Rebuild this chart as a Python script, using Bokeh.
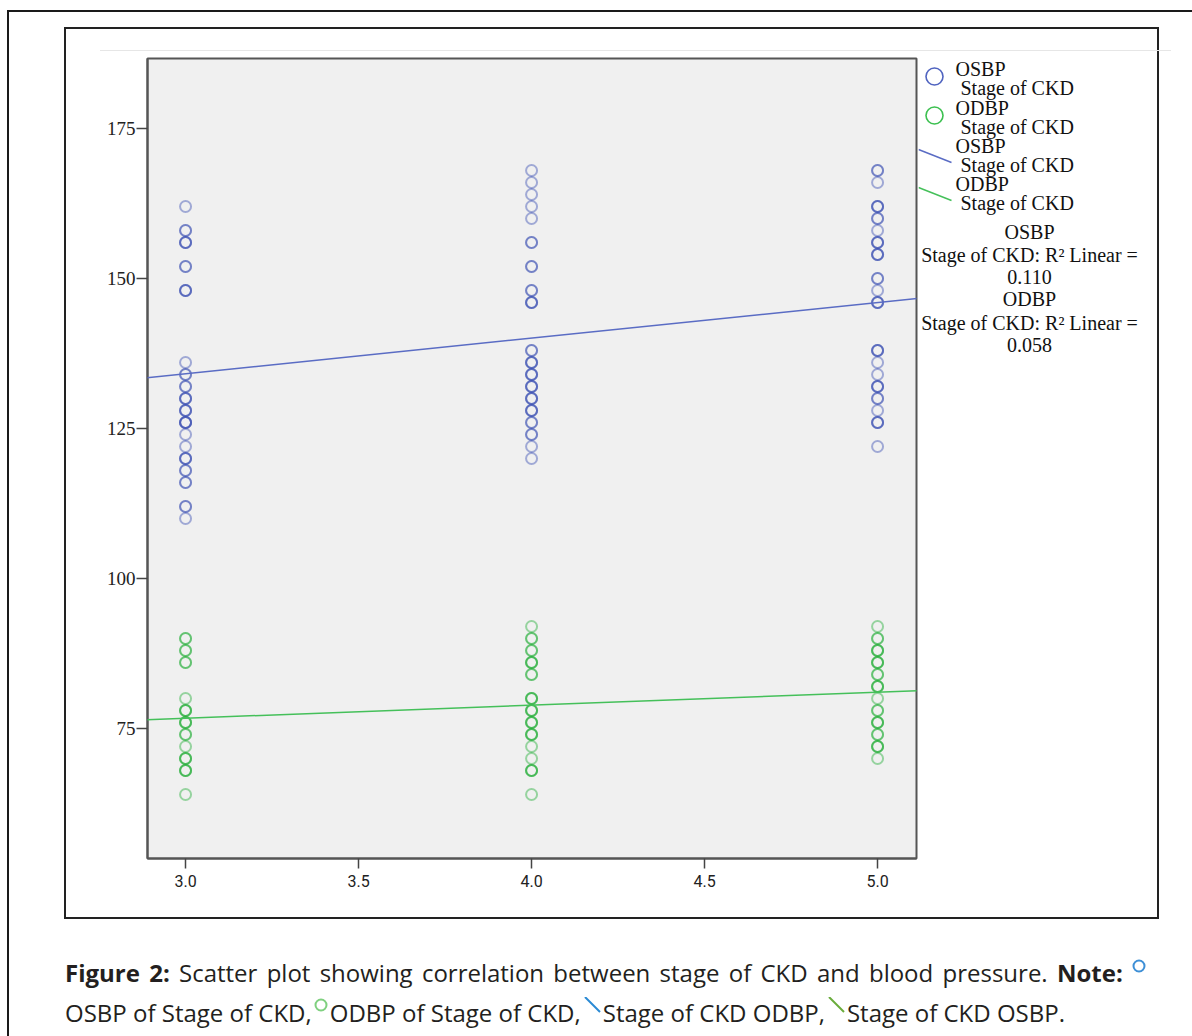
from bokeh.plotting import figure
from bokeh.layouts import column, row
from bokeh.models import Range1d, FixedTicker, NumeralTickFormatter, Slope, Div
from bokeh.core.properties import value
from bokeh.embed import file_html
from bokeh.resources import INLINE

# ---------------- data ----------------
x_ticks = [3.0, 3.5, 4.0, 4.5, 5.0]
y_ticks = [75, 100, 125, 150, 175]

# repeated values = overlapping subjects (darker circles)
osbp_stage3 = [162, 158, 158, 156, 156, 156, 152, 152, 148, 148, 148,
               136, 134, 134, 132, 132, 130, 130, 130, 128, 128, 128,
               126, 126, 126, 126, 124, 122, 120, 120, 120, 118, 118,
               116, 116, 112, 112, 110]
osbp_stage4 = [168, 166, 164, 162, 160, 156, 156, 152, 152, 148, 148,
               146, 146, 146, 138, 138, 136, 136, 136, 134, 134, 134,
               132, 132, 132, 130, 130, 130, 128, 128, 128, 126, 126,
               124, 124, 122, 120]
osbp_stage5 = [168, 168, 166, 162, 162, 162, 160, 160, 158, 156, 156, 156,
               154, 154, 154, 150, 150, 148, 146, 146, 146, 138, 138, 138,
               136, 134, 132, 132, 132, 130, 130, 128, 126, 126, 126, 122]

odbp_stage3 = [90, 90, 88, 88, 86, 86, 80, 78, 78, 78, 76, 76, 76, 74, 74,
               72, 70, 70, 70, 68, 68, 68, 64]
odbp_stage4 = [92, 90, 90, 88, 88, 86, 86, 86, 84, 84, 80, 80, 80, 78, 78,
               78, 76, 76, 76, 74, 74, 74, 72, 70, 68, 68, 68, 64]
odbp_stage5 = [92, 90, 90, 88, 88, 88, 86, 86, 86, 84, 84, 82, 82, 82, 80,
               78, 78, 76, 76, 76, 74, 74, 72, 72, 72, 70]

# fitted regression lines
osbp_fit_slope, osbp_fit_intercept = 5.94, 116.3
odbp_fit_slope, odbp_fit_intercept = 2.17, 70.2

r2_osbp = "0.110"
r2_odbp = "0.058"

legend_names = ["OSBP", "ODBP", "OSBP", "ODBP"]
legend_sub = "Stage of CKD"

caption_title = "Figure 2:"
caption_body = "Scatter plot showing correlation between stage of CKD and blood pressure."
caption_note = "Note:"
caption_items = ["OSBP of Stage of CKD,", "ODBP of Stage of CKD,",
                 "Stage of CKD ODBP,", "Stage of CKD OSBP."]

# ---------------- styling ----------------
BLUE = "#3d52b4"
GREEN = "#27b03c"
BLUE_FIT = "#5a6cc4"
GREEN_FIT = "#45c05a"
BORDER = "#1a1a1a"
LF = "Liberation Serif"
CC = "#231f20"

PAGE_W = 1192
TOP_H = 56
MID_H = 844
BOT_H = 136
LEFT_W = 100
MAIN_W = 818
LEG_W = 232
RIGHT_W = PAGE_W - LEFT_W - MAIN_W - LEG_W


def bar(left, top, width, height, color=BORDER):
    return (f'<div style="position:absolute;left:{left}px;top:{top}px;'
            f'width:{width}px;height:{height}px;background:{color}"></div>')


def box_div(w, h, inner):
    html = (f'<div style="position:relative;width:{w}px;height:{h}px;'
            f'overflow:hidden;margin:0;padding:0">{inner}</div>')
    return Div(text=html, width=w, height=h, margin=0)


# ---------------- top band (frame lines) ----------------
top = box_div(PAGE_W, TOP_H,
              bar(7, 10, PAGE_W - 7, 2) + bar(7, 10, 2, TOP_H - 10) +
              bar(64, 27, 1095, 2, "#222") + bar(64, 27, 2, TOP_H - 27, "#222") +
              bar(1157, 27, 2, TOP_H - 27, "#222") +
              bar(100, 50, 1071, 1, "#e6e6e6"))

left = box_div(LEFT_W, MID_H, bar(7, 0, 2, MID_H) + bar(64, 0, 2, MID_H, "#222"))
right = box_div(RIGHT_W, MID_H, bar(1157 - (PAGE_W - RIGHT_W), 0, 2, MID_H, "#222"))

# ---------------- main scatter plot ----------------
p = figure(width=MAIN_W, height=MID_H,
           x_range=Range1d(2.89, 5.1125), y_range=Range1d(53.33, 186.67),
           output_backend="svg", toolbar_location=None, title=None,
           min_border_left=47, min_border_right=2,
           min_border_top=2, min_border_bottom=42)
p.background_fill_color = "#f0f0f0"
p.border_fill_color = "white"
p.outline_line_color = "#555555"
p.outline_line_width = 2
p.xgrid.visible = False
p.ygrid.visible = False

for ax in (p.xaxis[0], p.yaxis[0]):
    ax.axis_line_color = "#555555"
    ax.axis_line_width = 2
    ax.major_tick_line_color = "#444444"
    ax.major_tick_line_width = 1.5
    ax.major_tick_in = 0
    ax.minor_tick_in = 0
    ax.minor_tick_out = 0
    ax.major_label_text_color = "#222222"

p.xaxis.ticker = FixedTicker(ticks=x_ticks)
p.xaxis.formatter = NumeralTickFormatter(format="0.0")
p.xaxis.major_tick_out = 10
p.xaxis.major_label_standoff = 6
p.xaxis.major_label_text_font = "Roboto"
p.xaxis.major_label_text_font_size = "16px"

p.yaxis.ticker = FixedTicker(ticks=y_ticks)
p.yaxis.major_tick_out = 11
p.yaxis.major_label_standoff = 1
p.yaxis.major_label_text_font = LF
p.yaxis.major_label_text_font_size = "19px"

osbp_x = [3.0] * len(osbp_stage3) + [4.0] * len(osbp_stage4) + [5.0] * len(osbp_stage5)
osbp_y = osbp_stage3 + osbp_stage4 + osbp_stage5
odbp_x = [3.0] * len(odbp_stage3) + [4.0] * len(odbp_stage4) + [5.0] * len(odbp_stage5)
odbp_y = odbp_stage3 + odbp_stage4 + odbp_stage5

p.scatter(osbp_x, osbp_y, marker="circle", size=11, fill_color=None,
          line_color=BLUE, line_width=2, line_alpha=0.45)
p.scatter(odbp_x, odbp_y, marker="circle", size=11, fill_color=None,
          line_color=GREEN, line_width=2, line_alpha=0.45)

p.add_layout(Slope(gradient=osbp_fit_slope, y_intercept=osbp_fit_intercept,
                   line_color=BLUE_FIT, line_width=1.5))
p.add_layout(Slope(gradient=odbp_fit_slope, y_intercept=odbp_fit_intercept,
                   line_color=GREEN_FIT, line_width=1.5))

# ---------------- legend (page-pixel coordinates, y downward) ----------------
LX0 = LEFT_W + MAIN_W
LY0, LY1 = TOP_H + 2, TOP_H + MID_H - 42
leg = figure(width=LEG_W, height=MID_H,
             x_range=Range1d(LX0, LX0 + LEG_W), y_range=Range1d(LY1, LY0),
             output_backend="svg", toolbar_location=None, title=None,
             x_axis_type=None, y_axis_type=None,
             min_border_left=0, min_border_right=0,
             min_border_top=2, min_border_bottom=42)
leg.outline_line_color = None
leg.background_fill_color = "white"
leg.border_fill_color = "white"
leg.xgrid.visible = False
leg.ygrid.visible = False


def txt(f, t, x, y, size, font, align="left", color="#111111"):
    f.text(x=[x], y=[y], text=[t], text_font=value(font),
           text_font_size=value(f"{size}px"),
           text_align=align, text_baseline="middle", text_color=color)


leg.scatter([934], [76], marker="circle", size=17, fill_color=None,
            line_color="#5064c0", line_width=1.6)
leg.scatter([934], [115], marker="circle", size=17, fill_color=None,
            line_color="#3cc050", line_width=1.6)
leg.segment(x0=[918, 918], y0=[149, 187], x1=[951, 951], y1=[162, 200],
            line_color=[BLUE_FIT, GREEN_FIT], line_width=1.5)
name_y = [68, 107, 145, 183]
for nm, yy in zip(legend_names, name_y):
    txt(leg, nm, 955, yy, 20, LF)
    txt(leg, legend_sub, 960, yy + 19, 20, LF)
fit_rows = [("OSBP", 231), (legend_sub + ": R\u00b2 Linear =", 254), (r2_osbp, 276),
            ("ODBP", 298), (legend_sub + ": R\u00b2 Linear =", 322), (r2_odbp, 344)]
for t, yy in fit_rows:
    txt(leg, t, 1029, yy, 20, LF, align="center")

# ---------------- bottom band with caption ----------------
def svg_circle(color, w, cx, cy):
    return (f'<svg width="{w}" height="22" style="vertical-align:top">'
            f'<circle cx="{cx}" cy="{cy}" r="5.5" fill="none" stroke="{color}" '
            f'stroke-width="2"/></svg>')


def svg_slash(color):
    return ('<svg width="22" height="20" style="vertical-align:top">'
            f'<line x1="4" y1="0" x2="19" y2="15" stroke="{color}" '
            'stroke-width="2"/></svg>')


font_css = ("font-family:'Open Sans';font-size:24px;line-height:32px;"
            f"color:{CC};white-space:nowrap")
line1 = (f'<div style="position:absolute;left:65px;top:57px;width:1081px;{font_css};'
         'white-space:normal;text-align:justify;text-align-last:justify">'
         f'<b>{caption_title}</b> {caption_body} <b>{caption_note}</b> '
         f'{svg_circle("#3d8fd6", 14, 7, 9)}</div>')
line2 = (f'<div style="position:absolute;left:65px;top:97px;{font_css}">'
         f'{caption_items[0]}{svg_circle("#7fd07f", 18, 9, 8)}{caption_items[1]}'
         f'{svg_slash("#2a8ad4")}{caption_items[2]}'
         f'{svg_slash("#6aac3c")}{caption_items[3]}</div>')
bot = box_div(PAGE_W, BOT_H,
              bar(7, 0, 2, BOT_H) + bar(64, 0, 2, 19, "#222") +
              bar(1157, 0, 2, 19, "#222") + bar(64, 16.5, 1095, 2.5, "#222") +
              line1 + line2)

layout = column(top, row(left, p, leg, right), bot)
open("out.html", "w").write(file_html(layout, INLINE))
